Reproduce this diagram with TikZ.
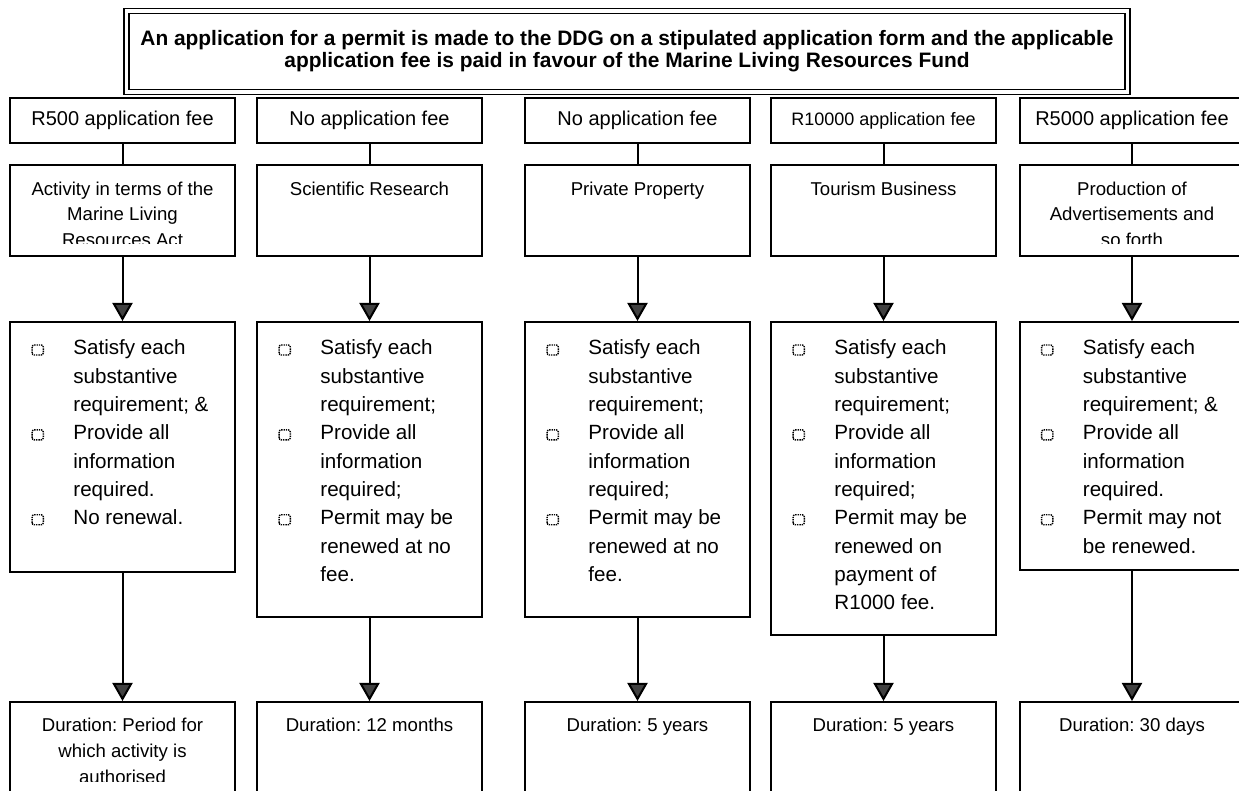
\documentclass[tikz,border=0pt]{standalone}
\usepackage{fontspec}
\setmainfont{Liberation Sans}
\usetikzlibrary{arrows.meta,positioning}
\frenchspacing

\newcommand{\chkbox}{\tikz[baseline=0pt]\draw[line width=0.7pt,dash pattern=on 0.7pt off 0.45pt,rounded corners=1pt] (0,0) rectangle (5.6pt,5pt);}

\tikzset{
  box/.style={draw,line width=1pt,minimum width=112.5pt,inner sep=0pt},
  feebox/.style={box,minimum height=22.5pt,font=\fontsize{10}{12}\selectfont},
  kindbox/.style={box,minimum height=45.5pt},
  durbox/.style={box,minimum height=46pt},
  intext/.style={anchor=base,inner sep=0pt,font=\fontsize{9.3}{12.75}\selectfont},
  reqtext/.style={anchor=base west,inner sep=0pt,font=\fontsize{10.3}{14.15}\selectfont},
  link/.style={line width=1pt},
  flow/.style={line width=1pt,-{Triangle[width=10pt,length=9pt,fill=black!75]}},
}

\begin{document}
\begin{tikzpicture}[x=0.5pt,y=-0.5pt]
\useasboundingbox (0,0) rectangle (1239,791);

% application heading
\node[draw,double,double distance=1.6pt,line width=0.9pt,minimum width=500.5pt,minimum height=40.5pt,
      align=center,font=\bfseries\fontsize{10.45}{11}\selectfont] (apply) at (627,51.5)
  {An application for a permit is made to the DDG on a stipulated application form and the applicable\\
   application fee is paid in favour of the Marine Living Resources Fund};

% fees
\node[feebox] (fee1) at (122.5,120.5) {R500 application fee};
\node[feebox] (fee2) at (369.5,120.5) {No application fee};
\node[feebox] (fee3) at (637.5,120.5) {No application fee};
\node[feebox,font=\fontsize{9}{10}\selectfont] (fee4) at (883.5,120.5) {R10000 application fee};
\node[feebox] (fee5) at (1132,120.5) {R5000 application fee};

% kind of activity
\node[kindbox] (kind1) at (122.5,210.5) {};
\node[kindbox] (kind2) at (369.5,210.5) {};
\node[kindbox] (kind3) at (637.5,210.5) {};
\node[kindbox] (kind4) at (883.5,210.5) {};
\node[kindbox] (kind5) at (1132,210.5) {};
\begin{scope}
\clip (kind1.north west) rectangle ([yshift=6.5pt]kind1.south east);
\node[intext] (kind1txt) at (122.5,195.5) {\begin{tabular}[t]{@{}c@{}}Activity in terms of the\\Marine Living\\Resources Act\end{tabular}};
\end{scope}
\node[intext] (kind2txt) at (369.5,195.5) {Scientific Research};
\node[intext] (kind3txt) at (637.5,195.5) {Private Property};
\node[intext] (kind4txt) at (883.5,195.5) {Tourism Business};
\begin{scope}
\clip (kind5.north west) rectangle ([yshift=6.5pt]kind5.south east);
\node[intext] (kind5txt) at (1132,195.5) {\begin{tabular}[t]{@{}c@{}}Production of\\Advertisements and\\so forth\end{tabular}};
\end{scope}

% requirements
\node[box,minimum height=125pt] (req1) at (122.5,447) {};
\node[box,minimum height=147.5pt] (req2) at (369.5,469.5) {};
\node[box,minimum height=147.5pt] (req3) at (637.5,469.5) {};
\node[box,minimum height=156.5pt] (req4) at (883.5,478.5) {};
\node[box,minimum height=124pt] (req5) at (1132,446) {};

\node[reqtext] (req1txt) at (31,355) {\begin{tabular}[t]{@{}p{21pt}@{}l@{}}
  \chkbox & Satisfy each\\ & substantive\\ & requirement; \&\\
  \chkbox & Provide all\\ & information\\ & required.\\
  \chkbox & No renewal.\end{tabular}};
\node[reqtext] (req2txt) at (278,355) {\begin{tabular}[t]{@{}p{21pt}@{}l@{}}
  \chkbox & Satisfy each\\ & substantive\\ & requirement;\\
  \chkbox & Provide all\\ & information\\ & required;\\
  \chkbox & Permit may be\\ & renewed at no\\ & fee.\end{tabular}};
\node[reqtext] (req3txt) at (546,355) {\begin{tabular}[t]{@{}p{21pt}@{}l@{}}
  \chkbox & Satisfy each\\ & substantive\\ & requirement;\\
  \chkbox & Provide all\\ & information\\ & required;\\
  \chkbox & Permit may be\\ & renewed at no\\ & fee.\end{tabular}};
\node[reqtext] (req4txt) at (792,355) {\begin{tabular}[t]{@{}p{21pt}@{}l@{}}
  \chkbox & Satisfy each\\ & substantive\\ & requirement;\\
  \chkbox & Provide all\\ & information\\ & required;\\
  \chkbox & Permit may be\\ & renewed on\\ & payment of\\ & R1000 fee.\end{tabular}};
\node[reqtext] (req5txt) at (1040.5,355) {\begin{tabular}[t]{@{}p{21pt}@{}l@{}}
  \chkbox & Satisfy each\\ & substantive\\ & requirement; \&\\
  \chkbox & Provide all\\ & information\\ & required.\\
  \chkbox & Permit may not\\ & be renewed.\end{tabular}};

% duration (boxes run off the bottom edge)
\node[durbox] (dur1) at (122.5,748) {};
\node[durbox] (dur2) at (369.5,748) {};
\node[durbox] (dur3) at (637.5,748) {};
\node[durbox] (dur4) at (883.5,748) {};
\node[durbox] (dur5) at (1132,748) {};
\begin{scope}
\clip (dur1.north west) rectangle ([yshift=7pt]dur1.south east);
\node[intext,font=\fontsize{9.3}{13}\selectfont] (dur1txt) at (122.5,731.5) {\begin{tabular}[t]{@{}c@{}}Duration: Period for\\which activity is\\authorised\end{tabular}};
\end{scope}
\node[intext] (dur2txt) at (369.5,731.5) {Duration: 12 months};
\node[intext] (dur3txt) at (637.5,731.5) {Duration: 5 years};
\node[intext] (dur4txt) at (883.5,731.5) {Duration: 5 years};
\node[intext] (dur5txt) at (1132,731.5) {Duration: 30 days};

% connectors
\foreach \i in {1,...,5} {
  \draw[link] (fee\i) -- (kind\i);
  \draw[flow] (kind\i) -- (req\i);
  \draw[flow] (req\i) -- (dur\i);
}
\end{tikzpicture}
\end{document}
